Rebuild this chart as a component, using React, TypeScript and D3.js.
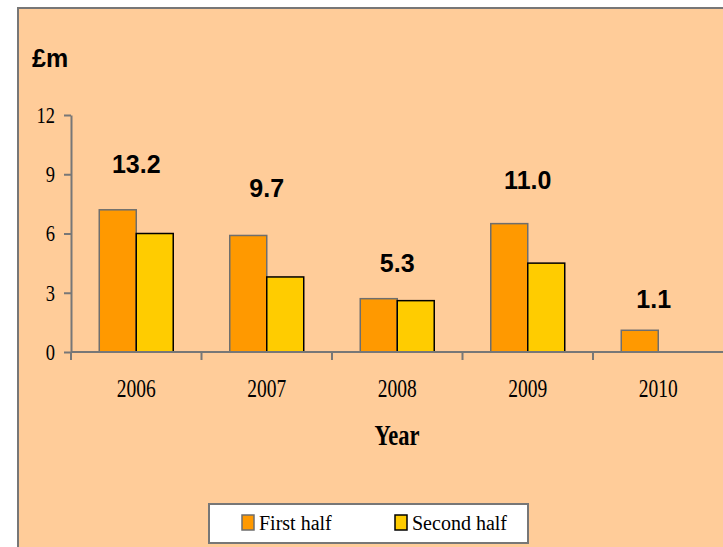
import { useEffect, useRef } from 'react';
import * as d3 from 'd3';

const YEARS = ['2006', '2007', '2008', '2009', '2010'];
const FIRST_HALF = [7.2, 5.9, 2.7, 6.5, 1.1];
const SECOND_HALF: (number | null)[] = [6.0, 3.8, 2.6, 4.5, null];
const TOTALS = ['13.2', '9.7', '5.3', '11.0', '1.1'];
// height (in £m) at which each total label sits
const TOTAL_LABEL_AT = [9.05, 7.85, 4.05, 8.25, 2.25];
const Y_TICKS = [0, 3, 6, 9, 12];
const SERIES = ['First half', 'Second half'];

const FILLS = ['#ff9900', '#ffcc00'];
const STROKES = ['#6e6e6e', '#000000'];

const WIDTH = 723;
const HEIGHT = 547;

export default function App() {
  const svgRef = useRef<SVGSVGElement>(null);

  useEffect(() => {
    if (!svgRef.current) return;
    const svg = d3.select(svgRef.current);
    svg.selectAll('*').remove();

    const serif = '"Liberation Serif", "Times New Roman", serif';
    const sans = '"Liberation Sans", Arial, sans-serif';

    // background + frame
    svg.append('rect').attr('width', WIDTH).attr('height', HEIGHT).attr('fill', '#fff');
    svg.append('rect')
      .attr('x', 18).attr('y', 8)
      .attr('width', WIDTH).attr('height', HEIGHT)
      .attr('fill', '#ffcc99')
      .attr('stroke', '#777').attr('stroke-width', 2);

    const left = 71, right = 723.5, top = 115, bottom = 352;

    const x = d3.scaleBand<string>().domain(YEARS).range([left, right]).padding(0);
    const x1 = d3.scaleBand<string>()
      .domain(SERIES)
      .range([0, x.bandwidth()])
      .paddingInner(0)
      .paddingOuter(0.764);
    const y = d3.scaleLinear().domain([0, 12]).range([bottom, top]);

    // bars
    const groups = svg.selectAll('.yr')
      .data(YEARS)
      .enter()
      .append('g')
      .attr('transform', d => `translate(${x(d)},0)`);

    groups.each(function (_yr, i) {
      const g = d3.select(this);
      const vals = [FIRST_HALF[i], SECOND_HALF[i]];
      vals.forEach((v, s) => {
        if (v == null) return;
        g.append('rect')
          .attr('x', x1(SERIES[s])!)
          .attr('y', y(v))
          .attr('width', x1.bandwidth())
          .attr('height', y(0) - y(v))
          .attr('fill', FILLS[s])
          .attr('stroke', STROKES[s])
          .attr('stroke-width', 1.5);
      });
    });

    // total labels
    svg.selectAll('.total')
      .data(YEARS)
      .enter()
      .append('text')
      .attr('x', (d, i) => SECOND_HALF[i] == null
        ? x(d)! + x1(SERIES[0])! + x1.bandwidth() / 2 + 14
        : x(d)! + x.bandwidth() / 2)
      .attr('y', (_, i) => y(TOTAL_LABEL_AT[i]))
      .attr('text-anchor', 'middle')
      .attr('font-family', sans)
      .attr('font-weight', 'bold')
      .attr('font-size', 25)
      .attr('fill', '#000')
      .text((_, i) => TOTALS[i]);

    // y axis
    const yAxis = svg.append('g')
      .attr('transform', `translate(${left},0)`)
      .call(d3.axisLeft(y).tickValues(Y_TICKS).tickSize(7).tickSizeOuter(0).tickPadding(9));
    yAxis.select('.domain').attr('stroke', '#777').attr('stroke-width', 2);
    yAxis.selectAll('.tick line').attr('stroke', '#777').attr('stroke-width', 2);
    yAxis.selectAll('.tick text')
      .attr('font-family', serif)
      .attr('font-size', 18.5)
      .attr('fill', '#000')
      .attr('transform', 'scale(1,1.26)');

    // x axis with ticks at category boundaries
    svg.append('line')
      .attr('x1', left).attr('x2', WIDTH)
      .attr('y1', bottom).attr('y2', bottom)
      .attr('stroke', '#777').attr('stroke-width', 2);
    svg.selectAll('.xt')
      .data(YEARS)
      .enter()
      .append('line')
      .attr('x1', d => x(d)!).attr('x2', d => x(d)!)
      .attr('y1', bottom).attr('y2', bottom + 8)
      .attr('stroke', '#777').attr('stroke-width', 2);
    svg.selectAll('.xl')
      .data(YEARS)
      .enter()
      .append('text')
      .attr('transform', d => `translate(${x(d)! + x.bandwidth() / 2},397) scale(1,1.28)`)
      .attr('text-anchor', 'middle')
      .attr('font-family', serif)
      .attr('font-size', 19.5)
      .text(d => d);

    // axis titles
    svg.append('text')
      .attr('transform', 'translate(397,445) scale(1,1.3)')
      .attr('text-anchor', 'middle')
      .attr('font-family', serif)
      .attr('font-weight', 'bold')
      .attr('font-size', 22.5)
      .text('Year');
    svg.append('text')
      .attr('x', 32).attr('y', 67)
      .attr('font-family', sans)
      .attr('font-weight', 'bold')
      .attr('font-size', 25)
      .text('£m');

    // legend
    const legend = svg.append('g');
    legend.append('rect')
      .attr('x', 209).attr('y', 504)
      .attr('width', 319).attr('height', 39)
      .attr('fill', '#fff')
      .attr('stroke', '#777').attr('stroke-width', 2);
    const legendX = [242, 395];
    SERIES.forEach((name, i) => {
      legend.append('rect')
        .attr('x', legendX[i]).attr('y', 515)
        .attr('width', 12).attr('height', 15)
        .attr('fill', FILLS[i])
        .attr('stroke', STROKES[i]).attr('stroke-width', 1.5);
      legend.append('text')
        .attr('x', legendX[i] + 17).attr('y', 530)
        .attr('font-family', serif)
        .attr('font-size', 20)
        .text(name);
    });
  }, []);

  return (
    <svg
      ref={svgRef}
      width={WIDTH}
      height={HEIGHT}
      style={{ position: 'absolute', left: 0, top: 0 }}
    />
  );
}
